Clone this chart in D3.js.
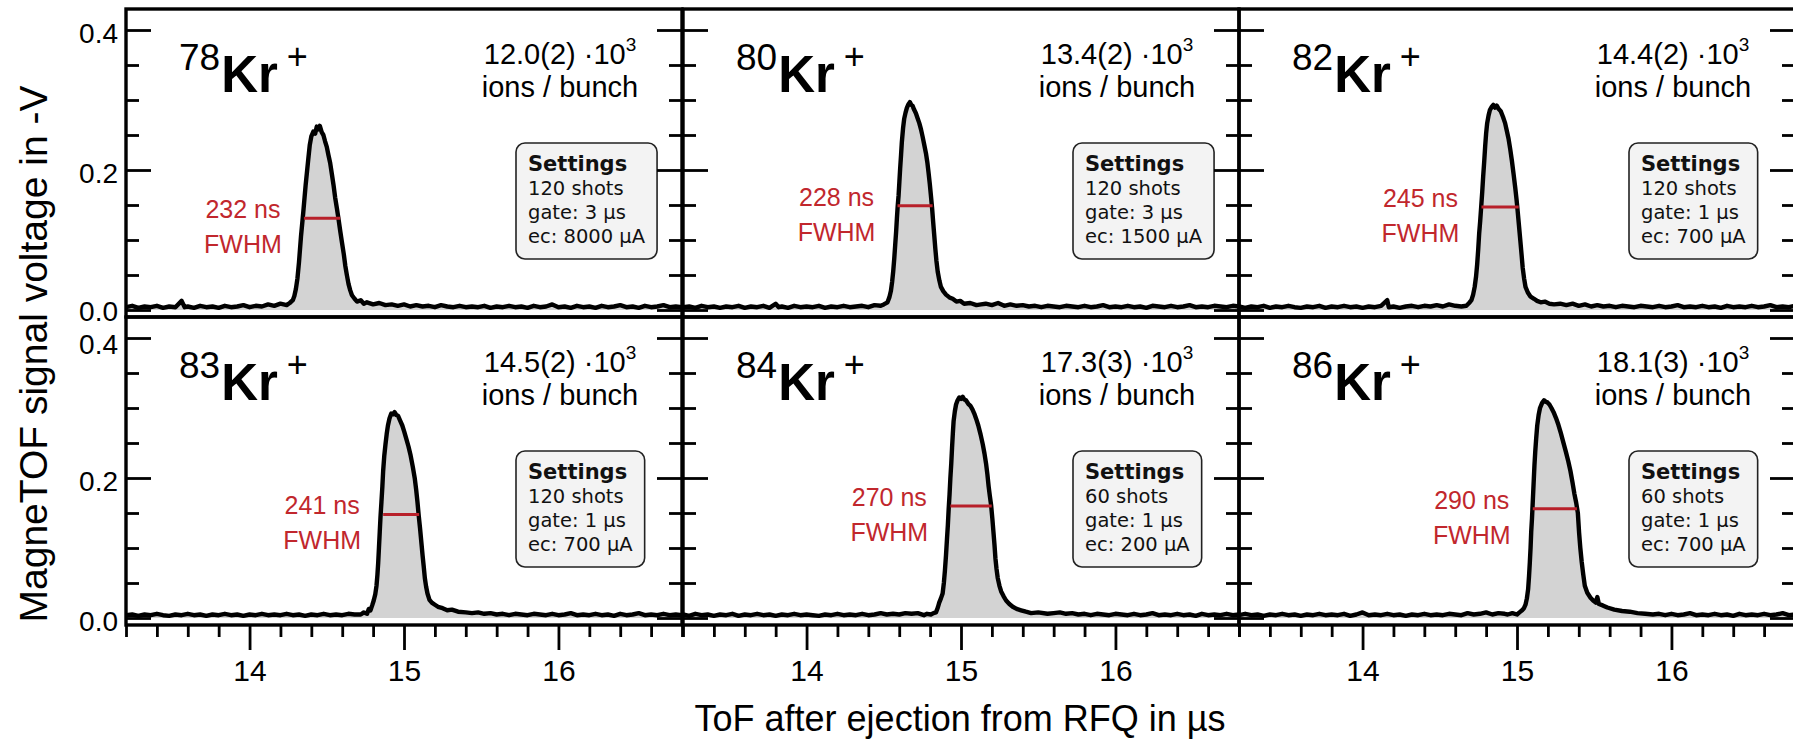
<!DOCTYPE html>
<html>
<head>
<meta charset="utf-8">
<script src="https://cdn.jsdelivr.net/npm/d3@7"></script>
<style>
  body { margin: 0; background: #fff; }
  svg { display: block; }
</style>
</head>
<body>
<div class="chart"></div>
<script>
// --- Data (ToF in µs, signal in -V) ---
const isotopes   = ["78", "80", "82", "83", "84", "86"];
const ionCounts  = ["12.0(2)", "13.4(2)", "14.4(2)", "14.5(2)", "17.3(3)", "18.1(3)"];
const shots      = [120, 120, 120, 120, 60, 60];
const gates      = [3, 3, 1, 1, 1, 1];
const ecCurrents = [8000, 1500, 700, 700, 200, 700];
const fwhmNs     = [232, 228, 245, 241, 270, 290];
// [left edge, right edge, half maximum]
const fwhmBars   = [
    [14.352, 14.587, 0.131], [14.589, 14.816, 0.149], [14.770, 15.011, 0.147],
    [14.865, 15.098, 0.148], [14.931, 15.199, 0.160], [15.102, 15.388, 0.156]
];
const xMajor = [14, 15, 16];
const yMajor = [0.0, 0.2, 0.4];

const trace78 = [
    [13.20,.004],[13.24,.006],[13.28,.003],[13.32,.005],[13.36,.004],[13.40,.006],[13.44,.003],[13.48,.005],
    [13.52,.004],[13.56,.013],[13.58,.004],[13.60,.005],[13.64,.003],[13.68,.006],[13.72,.004],[13.76,.005],
    [13.80,.003],[13.84,.006],[13.88,.004],[13.92,.005],[13.96,.007],[14.00,.004],[14.04,.006],[14.08,.005],
    [14.12,.008],[14.16,.006],[14.20,.009],[14.24,.007],
    [14.26,.010],[14.28,.014],[14.29,.020],[14.30,.030],[14.31,.045],[14.32,.068],[14.333,.105],[14.348,.140],
    [14.363,.178],[14.38,.215],[14.39,.236],[14.40,.248],[14.413,.255],[14.425,.252],[14.435,.262],[14.445,.258],
    [14.455,.263],[14.467,.254],[14.478,.250],[14.489,.241],[14.50,.233],[14.511,.221],[14.522,.210],[14.533,.194],
    [14.544,.178],[14.554,.161],[14.565,.146],[14.576,.130],[14.587,.113],[14.598,.097],[14.61,.080],[14.62,.063],
    [14.63,.050],[14.641,.037],[14.652,.028],[14.663,.021],[14.68,.016],[14.696,.012],[14.72,.014],[14.74,.009],
    [14.76,.011],[14.80,.008],[14.84,.010],[14.88,.007],[14.92,.008],[14.96,.006],[15.00,.008],[15.04,.005],
    [15.08,.007],[15.12,.005],[15.16,.006],[15.20,.004],[15.24,.007],[15.28,.005],[15.32,.004],[15.36,.006],
    [15.40,.004],[15.44,.005],[15.48,.004],[15.52,.006],[15.56,.003],[15.60,.005],[15.64,.004],[15.68,.006],
    [15.72,.004],[15.76,.005],[15.80,.003],[15.84,.006],[15.88,.004],[15.92,.005],[15.96,.008],[16.00,.004],
    [16.04,.005],[16.08,.003],[16.12,.006],[16.16,.004],[16.20,.005],[16.24,.003],[16.28,.006],[16.32,.004],
    [16.36,.005],[16.40,.007],[16.44,.004],[16.48,.005],[16.52,.003],[16.56,.006],[16.60,.004],[16.64,.005],
    [16.68,.007],[16.72,.004],[16.76,.005],[16.80,.004]
];
const trace80 = [
    [13.20,.004],[13.24,.005],[13.28,.003],[13.32,.006],[13.36,.004],[13.40,.005],[13.44,.003],[13.48,.005],
    [13.52,.004],[13.56,.006],[13.60,.003],[13.64,.005],[13.68,.004],[13.72,.006],[13.76,.003],[13.80,.009],
    [13.82,.004],[13.84,.005],[13.88,.003],[13.92,.006],[13.96,.004],[14.00,.005],[14.04,.004],[14.08,.006],
    [14.12,.003],[14.16,.005],[14.20,.004],[14.24,.006],[14.28,.004],[14.32,.005],[14.36,.006],[14.40,.004],
    [14.44,.007],
    [14.48,.006],[14.50,.008],[14.524,.011],[14.536,.018],[14.546,.027],[14.554,.040],[14.561,.055],[14.568,.074],
    [14.574,.093],[14.58,.112],[14.585,.131],[14.59,.148],[14.596,.164],[14.601,.183],[14.606,.202],[14.612,.222],
    [14.617,.240],[14.625,.260],[14.632,.273],[14.641,.282],[14.65,.289],[14.66,.294],[14.669,.297],[14.678,.293],
    [14.686,.292],[14.697,.286],[14.708,.281],[14.719,.274],[14.73,.267],[14.741,.258],[14.751,.248],[14.762,.236],
    [14.773,.224],[14.782,.211],[14.79,.196],[14.798,.180],[14.805,.164],[14.813,.145],[14.82,.125],[14.827,.106],
    [14.834,.087],[14.841,.070],[14.849,.055],[14.86,.042],[14.87,.033],[14.885,.027],[14.903,.022],[14.925,.018],
    [14.946,.016],[14.97,.012],[14.995,.013],[15.02,.009],[15.06,.010],[15.10,.007],[15.13,.008],
    [15.16,.009],[15.20,.007],[15.24,.010],[15.28,.006],[15.32,.008],[15.36,.006],[15.40,.007],[15.44,.005],
    [15.48,.006],[15.52,.004],[15.56,.006],[15.60,.005],[15.64,.004],[15.68,.006],[15.72,.005],[15.76,.004],
    [15.80,.006],[15.84,.004],[15.88,.005],[15.92,.007],[15.96,.004],[16.00,.005],[16.04,.004],[16.08,.006],
    [16.12,.004],[16.16,.005],[16.20,.003],[16.24,.006],[16.28,.005],[16.32,.004],[16.36,.006],[16.40,.004],
    [16.44,.005],[16.48,.007],[16.52,.004],[16.56,.005],[16.60,.004],[16.64,.006],[16.68,.005],[16.72,.004],
    [16.76,.006],[16.80,.005]
];
const trace82 = [
    [13.20,.005],[13.24,.003],[13.28,.005],[13.32,.004],[13.36,.006],[13.40,.003],[13.44,.005],[13.48,.004],
    [13.52,.006],[13.56,.004],[13.60,.003],[13.64,.005],[13.68,.004],[13.72,.006],[13.76,.003],[13.80,.005],
    [13.84,.004],[13.88,.006],[13.92,.004],[13.96,.005],[14.00,.003],[14.04,.005],[14.08,.004],[14.12,.006],
    [14.16,.014],[14.17,.004],[14.20,.005],[14.24,.003],[14.28,.005],[14.32,.006],[14.36,.004],[14.40,.006],
    [14.44,.005],[14.48,.007],[14.52,.005],[14.56,.008],[14.60,.006],
    [14.64,.005],[14.672,.006],[14.69,.010],[14.705,.014],[14.716,.022],[14.726,.033],[14.735,.048],[14.742,.065],
    [14.749,.087],[14.755,.109],[14.762,.128],[14.768,.147],[14.775,.169],[14.781,.191],[14.788,.213],[14.794,.234],
    [14.80,.252],[14.807,.267],[14.816,.278],[14.825,.286],[14.836,.290],[14.847,.293],[14.858,.289],[14.869,.292],
    [14.882,.287],[14.895,.284],[14.909,.276],[14.923,.267],[14.934,.256],[14.945,.245],[14.956,.230],[14.967,.213],
    [14.978,.194],[14.989,.174],[14.997,.158],[15.004,.142],[15.013,.120],[15.022,.098],[15.03,.078],[15.037,.060],
    [15.046,.045],[15.055,.033],[15.07,.025],[15.088,.019],[15.11,.016],[15.13,.013],[15.153,.011],[15.18,.012],
    [15.21,.009],[15.24,.008],[15.28,.009],
    [15.32,.007],[15.36,.009],[15.40,.006],[15.44,.008],[15.48,.005],[15.52,.007],[15.56,.005],[15.60,.006],
    [15.64,.004],[15.68,.006],[15.72,.005],[15.76,.004],[15.80,.006],[15.84,.005],[15.88,.004],[15.92,.006],
    [15.96,.004],[16.00,.005],[16.04,.007],[16.08,.004],[16.12,.005],[16.16,.004],[16.20,.006],[16.24,.004],
    [16.28,.005],[16.32,.003],[16.36,.006],[16.40,.004],[16.44,.005],[16.48,.004],[16.52,.006],[16.56,.004],
    [16.60,.005],[16.64,.007],[16.68,.004],[16.72,.005],[16.76,.004],[16.80,.006]
];
const trace83 = [
    [13.20,.004],[13.24,.005],[13.28,.003],[13.32,.005],[13.36,.004],[13.40,.006],[13.44,.004],[13.48,.003],
    [13.52,.005],[13.56,.004],[13.60,.006],[13.64,.004],[13.68,.005],[13.72,.003],[13.76,.005],[13.80,.004],
    [13.84,.006],[13.88,.004],[13.92,.005],[13.96,.003],[14.00,.005],[14.04,.004],[14.08,.006],[14.12,.004],
    [14.16,.005],[14.20,.004],[14.24,.006],[14.28,.004],[14.32,.005],[14.36,.003],[14.40,.005],[14.44,.004],
    [14.48,.006],[14.52,.004],[14.56,.005],[14.60,.004],[14.64,.006],[14.68,.005],
    [14.72,.005],[14.74,.008],[14.761,.006],[14.772,.013],[14.783,.011],[14.794,.018],[14.804,.025],[14.814,.034],
    [14.822,.046],[14.828,.062],[14.833,.079],[14.838,.101],[14.843,.123],[14.848,.145],[14.854,.166],[14.86,.188],
    [14.865,.210],[14.872,.231],[14.88,.248],[14.888,.263],[14.896,.275],[14.906,.285],[14.917,.292],[14.928,.291],
    [14.939,.294],[14.95,.290],[14.961,.289],[14.975,.282],[14.989,.275],[15.002,.266],[15.015,.256],[15.029,.245],
    [15.043,.232],[15.057,.216],[15.07,.199],[15.079,.183],[15.087,.166],[15.095,.147],[15.104,.128],[15.112,.109],
    [15.12,.090],[15.128,.073],[15.135,.057],[15.143,.045],[15.152,.035],[15.165,.026],[15.18,.022],[15.20,.019],
    [15.22,.016],[15.25,.014],[15.28,.011],[15.31,.012],[15.35,.009],[15.40,.008],[15.44,.007],
    [15.48,.008],[15.52,.006],[15.56,.007],[15.60,.005],[15.64,.006],[15.68,.004],[15.72,.006],[15.76,.005],
    [15.80,.004],[15.84,.006],[15.88,.005],[15.92,.004],[15.96,.006],[16.00,.004],[16.04,.005],[16.08,.007],
    [16.12,.004],[16.16,.005],[16.20,.004],[16.24,.006],[16.28,.004],[16.32,.005],[16.36,.003],[16.40,.006],
    [16.44,.004],[16.48,.005],[16.52,.007],[16.56,.004],[16.60,.005],[16.64,.004],[16.68,.006],[16.72,.004],
    [16.76,.005],[16.80,.004]
];
const trace84 = [
    [13.20,.005],[13.24,.003],[13.28,.006],[13.32,.004],[13.36,.005],[13.40,.003],[13.44,.005],[13.48,.004],
    [13.52,.006],[13.56,.003],[13.60,.005],[13.64,.004],[13.68,.006],[13.72,.004],[13.76,.005],[13.80,.003],
    [13.84,.005],[13.88,.004],[13.92,.006],[13.96,.004],[14.00,.005],[14.04,.004],[14.08,.003],[14.12,.005],
    [14.16,.004],[14.20,.006],[14.24,.004],[14.28,.005],[14.32,.004],[14.36,.006],[14.40,.004],[14.44,.005],
    [14.48,.007],[14.52,.005],[14.56,.006],[14.60,.005],[14.64,.007],[14.68,.006],[14.72,.007],
    [14.76,.004],[14.78,.006],[14.805,.005],[14.822,.007],[14.838,.008],[14.85,.015],[14.859,.022],[14.87,.028],
    [14.881,.035],[14.889,.050],[14.896,.068],[14.903,.090],[14.909,.112],[14.915,.133],[14.92,.155],[14.926,.177],
    [14.931,.199],[14.937,.221],[14.942,.243],[14.947,.263],[14.952,.281],[14.96,.295],[14.968,.305],[14.978,.311],
    [14.989,.315],[15.00,.313],[15.011,.316],[15.022,.312],[15.032,.311],[15.047,.306],[15.061,.303],[15.074,.298],
    [15.086,.292],[15.099,.284],[15.112,.275],[15.127,.262],[15.141,.248],[15.152,.235],[15.162,.221],[15.171,.205],
    [15.179,.188],[15.187,.174],[15.195,.161],[15.203,.142],[15.21,.123],[15.217,.104],[15.223,.085],[15.23,.070],
    [15.238,.057],[15.249,.046],[15.26,.038],[15.276,.031],[15.292,.025],[15.313,.020],[15.335,.016],[15.36,.013],
    [15.389,.011],[15.42,.009],[15.454,.007],[15.50,.008],[15.56,.006],
    [15.60,.007],[15.64,.008],[15.68,.006],[15.72,.007],[15.76,.005],[15.80,.006],[15.84,.004],[15.88,.006],
    [15.92,.005],[15.96,.004],[16.00,.006],[16.04,.005],[16.08,.004],[16.12,.006],[16.16,.004],[16.20,.005],
    [16.24,.007],[16.28,.004],[16.32,.005],[16.36,.004],[16.40,.006],[16.44,.004],[16.48,.005],[16.52,.003],
    [16.56,.006],[16.60,.004],[16.64,.005],[16.68,.004],[16.72,.006],[16.76,.004],[16.80,.005]
];
const trace86 = [
    [13.20,.004],[13.24,.006],[13.28,.004],[13.32,.005],[13.36,.003],[13.40,.005],[13.44,.004],[13.48,.006],
    [13.52,.004],[13.56,.005],[13.60,.003],[13.64,.005],[13.68,.004],[13.72,.006],[13.76,.004],[13.80,.005],
    [13.84,.004],[13.88,.006],[13.92,.003],[13.96,.005],[14.00,.008],[14.04,.004],[14.08,.005],[14.12,.004],
    [14.16,.006],[14.20,.004],[14.24,.005],[14.28,.003],[14.32,.005],[14.36,.004],[14.40,.006],[14.44,.004],
    [14.48,.005],[14.52,.004],[14.56,.006],[14.60,.005],[14.64,.004],[14.68,.007],[14.72,.005],[14.76,.006],
    [14.80,.008],[14.84,.005],[14.88,.007],[14.92,.006],
    [14.94,.005],[14.97,.007],[15.00,.005],[15.016,.008],[15.033,.011],[15.045,.014],[15.055,.019],[15.064,.028],
    [15.072,.041],[15.078,.060],[15.083,.079],[15.088,.101],[15.092,.123],[15.097,.142],[15.101,.161],[15.105,.180],
    [15.109,.199],[15.113,.218],[15.118,.237],[15.124,.256],[15.131,.275],[15.14,.290],[15.149,.300],[15.162,.307],
    [15.175,.311],[15.186,.309],[15.197,.308],[15.21,.305],[15.223,.300],[15.237,.294],[15.252,.286],[15.268,.276],
    [15.284,.264],[15.30,.251],[15.317,.237],[15.332,.224],[15.346,.210],[15.359,.194],[15.372,.177],[15.383,.165],
    [15.394,.150],[15.402,.122],[15.41,.100],[15.419,.080],[15.429,.062],[15.439,.046],[15.455,.036],[15.476,.029],
    [15.493,.025],[15.51,.022],[15.52,.030],[15.53,.020],[15.555,.018],[15.585,.015],[15.63,.012],[15.68,.010],
    [15.73,.009],[15.78,.007],[15.83,.006],[15.88,.005],[15.92,.006],[15.96,.004],
    [16.00,.006],[16.04,.004],[16.08,.005],[16.12,.007],[16.16,.004],[16.20,.005],[16.24,.004],[16.28,.006],
    [16.32,.004],[16.36,.005],[16.40,.003],[16.44,.006],[16.48,.004],[16.52,.005],[16.56,.004],[16.60,.006],
    [16.64,.004],[16.68,.005],[16.72,.007],[16.76,.004],[16.80,.005]
];
const traces = [trace78, trace80, trace82, trace83, trace84, trace86];

// --- Layout ---
const W = 1793, H = 740;
const colX = [126, 683, 1239];       // left edge of each panel column
const rowY = [9, 317];               // top edge of each panel row
const pw = 556, ph = 308;
const sans = "'Liberation Sans', Arial, Helvetica, sans-serif";
const boxFont = "'DejaVu Sans', Verdana, sans-serif";
const red = "#c1272d";
const tickFont = 28;

const svg = d3.select(".chart")
    .append("svg")
    .attr("width", W)
    .attr("height", H)
    .attr("viewBox", `0 0 ${W} ${H}`)
    .style("background", "#fff");

const x = d3.scaleLinear().domain([13.2, 16.8]).range([0, pw]);
const y = d3.scaleLinear().domain([-0.01, 0.43]).range([ph, 0]);

const minorX = d3.range(66, 85).map(k => +(k * 0.2).toFixed(1)).filter(v => !xMajor.includes(v));
const minorY = [0.05, 0.10, 0.15, 0.25, 0.30, 0.35];

const area = d3.area()
    .x(d => x(d[0]))
    .y0(y(0))
    .y1(d => y(d[1]));

const line = d3.line()
    .x(d => x(d[0]))
    .y(d => y(d[1]));

svg.append("defs").append("clipPath")
    .attr("id", "panel-clip")
    .append("rect")
    .attr("width", pw)
    .attr("height", ph);

isotopes.forEach((iso, i) => {
    const col = i % 3, row = Math.floor(i / 3);
    const g = svg.append("g")
        .attr("transform", `translate(${colX[col]},${rowY[row]})`);

    // --- Trace: grey filled peak with thick black outline ---
    const plot = g.append("g").attr("clip-path", "url(#panel-clip)");
    plot.append("path")
        .datum(traces[i])
        .attr("d", area)
        .attr("fill", "#d3d3d3");
    plot.append("path")
        .datum(traces[i])
        .attr("d", line)
        .attr("fill", "none")
        .attr("stroke", "#000")
        .attr("stroke-width", 4.4)
        .attr("stroke-linejoin", "round");

    // --- FWHM bar and label ---
    const [fl, fr, fh] = fwhmBars[i];
    g.append("line")
        .attr("x1", x(fl)).attr("x2", x(fr))
        .attr("y1", y(fh)).attr("y2", y(fh))
        .attr("stroke", "#b8202a")
        .attr("stroke-width", 3);
    const fw = g.append("text")
        .attr("text-anchor", "middle")
        .style("font-family", sans)
        .style("font-size", "25px")
        .style("fill", red);
    fw.append("tspan").attr("x", x(fl) - 61).attr("y", y(fh)).text(`${fwhmNs[i]} ns`);
    fw.append("tspan").attr("x", x(fl) - 61).attr("y", y(fh) + 35).text("FWHM");

    // --- Isotope label ---
    const ion = g.append("text")
        .attr("x", 53)
        .attr("y", 61)
        .style("font-family", sans)
        .style("fill", "#000");
    ion.append("tspan").style("font-size", "37px").text(iso);
    ion.append("tspan").attr("dx", 1).attr("dy", 22)
        .style("font-size", "51px").style("font-weight", "bold").text("Kr");
    ion.append("tspan").attr("dx", 9).attr("dy", -23)
        .style("font-size", "36px").text("+");

    // --- Ions per bunch ---
    const cnt = g.append("text")
        .attr("text-anchor", "middle")
        .style("font-family", sans)
        .style("font-size", "29px")
        .style("fill", "#000");
    const l1 = cnt.append("tspan").attr("x", 434).attr("y", 55);
    l1.append("tspan").text(`${ionCounts[i]} ·10`);
    l1.append("tspan").attr("dy", -13).style("font-size", "19px").text("3");
    cnt.append("tspan").attr("x", 434).attr("y", 88).text("ions / bunch");

    // --- Settings box ---
    const box = g.append("g");
    const boxRect = box.append("rect")
        .attr("x", 390).attr("y", 134)
        .attr("height", 116)
        .attr("rx", 9)
        .attr("fill", "#f3f3f3")
        .attr("stroke", "#222")
        .attr("stroke-width", 1.6);
    const lines = [
        { t: "Settings", b: true },
        { t: `${shots[i]} shots` },
        { t: `gate: ${gates[i]} µs` },
        { t: `ec: ${ecCurrents[i]} µA` }
    ];
    let maxW = 0;
    lines.forEach((l, k) => {
        const tx = box.append("text")
            .attr("x", 402)
            .attr("y", 162 + k * 24)
            .style("font-family", boxFont)
            .style("font-size", l.b ? "21px" : "19.5px")
            .style("font-weight", l.b ? "bold" : "normal")
            .style("fill", "#111")
            .text(l.t);
        maxW = Math.max(maxW, tx.node().getComputedTextLength());
    });
    boxRect.attr("width", maxW + 24);

    // --- Inside y ticks on both sides ---
    const tickStyle = sel => {
        sel.select(".domain").remove();
        sel.selectAll("line").attr("stroke", "#000").attr("stroke-width", 2.8);
    };
    g.append("g")
        .call(d3.axisRight(y).tickValues(yMajor).tickSize(25).tickFormat(""))
        .call(tickStyle);
    g.append("g")
        .call(d3.axisRight(y).tickValues(minorY).tickSize(13).tickFormat(""))
        .call(tickStyle);
    g.append("g")
        .attr("transform", `translate(${pw},0)`)
        .call(d3.axisLeft(y).tickValues(yMajor).tickSize(25).tickFormat(""))
        .call(tickStyle);
    g.append("g")
        .attr("transform", `translate(${pw},0)`)
        .call(d3.axisLeft(y).tickValues(minorY).tickSize(13).tickFormat(""))
        .call(tickStyle);

    // --- y tick labels on the left column (0.0 of the top row and 0.4 of the
    //     bottom row sit close together, so they are nudged apart a little) ---
    if (col === 0) {
        const nudge = d => (row === 0 && d === 0) ? 0 : (row === 1 && d === 0.4) ? 5 : 2;
        g.append("g")
            .call(d3.axisLeft(y).tickValues(yMajor).tickSize(0).tickPadding(8).tickFormat(d3.format(".1f")))
            .call(sel => sel.select(".domain").remove())
            .call(sel => sel.selectAll("text")
                .attr("dy", d => `${0.36 * tickFont + nudge(d)}px`)
                .style("font-family", sans)
                .style("font-size", `${tickFont}px`)
                .attr("fill", "#000"));
    }

    // --- Outside x ticks below the bottom row ---
    if (row === 1) {
        g.append("g")
            .attr("transform", `translate(0,${ph})`)
            .call(d3.axisBottom(x).tickValues(minorX).tickSize(12).tickFormat(""))
            .call(tickStyle);
        g.append("g")
            .attr("transform", `translate(0,${ph})`)
            .call(d3.axisBottom(x).tickValues(xMajor).tickSize(25).tickFormat(d3.format("d")))
            .call(tickStyle)
            .call(sel => sel.selectAll("text")
                .attr("y", 56)
                .attr("dy", 0)
                .style("font-family", sans)
                .style("font-size", "30px")
                .attr("fill", "#000"));
    }

    // --- Panel frame ---
    g.append("rect")
        .attr("width", pw)
        .attr("height", ph)
        .attr("fill", "none")
        .attr("stroke", "#000")
        .attr("stroke-width", 3.4);
});

// --- Axis titles ---
svg.append("text")
    .attr("x", 960)
    .attr("y", 731)
    .attr("text-anchor", "middle")
    .style("font-family", sans)
    .style("font-size", "36px")
    .text("ToF after ejection from RFQ in µs");

svg.append("text")
    .attr("transform", "translate(47,354) rotate(-90)")
    .attr("text-anchor", "middle")
    .style("font-family", sans)
    .style("font-size", "39px")
    .text("MagneTOF signal voltage in -V");
</script>
</body>
</html>
